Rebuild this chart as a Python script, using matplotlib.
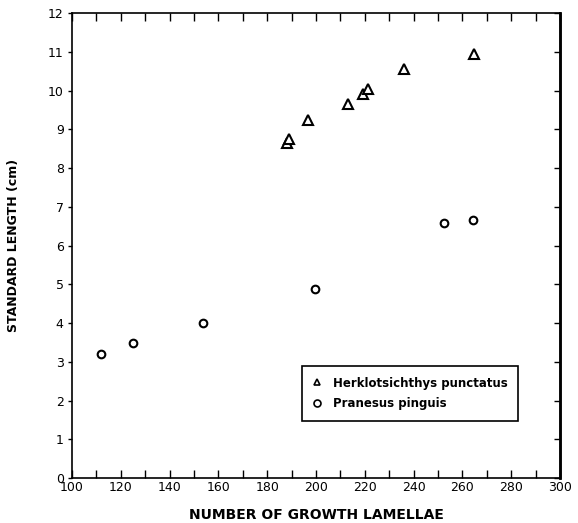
import matplotlib
matplotlib.use("Agg")
import matplotlib.pyplot as plt
import matplotlib.ticker as ticker

plt.rcParams.update({"font.family": "DejaVu Sans", "font.size": 9})

# Herklotsichthys punctatus (triangles)
herk_x = [188, 189, 196.6, 213.3, 219.3, 221.3, 236.2, 264.8]
herk_y = [8.65, 8.75, 9.24, 9.64, 9.90, 10.04, 10.56, 10.95]
# Pranesus pinguis (circles)
pran_x = [111.9, 124.8, 153.7, 199.7, 252.3, 264.5]
pran_y = [3.19, 3.49, 3.99, 4.89, 6.59, 6.66]

fig = plt.figure(figsize=(5.78, 5.23), dpi=100)
ax = fig.add_axes([0.1246, 0.086, 0.8443, 0.8891])

ax.plot(herk_x, herk_y, ls="none", marker="^", ms=6.5, mfc="white", mec="black",
        mew=1.5, label="Herklotsichthys punctatus")
ax.plot(pran_x, pran_y, ls="none", marker="o", ms=5.5, mfc="white", mec="black",
        mew=1.5, label="Pranesus pinguis")

ax.set_xlim(100, 300)
ax.set_ylim(0, 12)
ax.xaxis.set_major_locator(ticker.MultipleLocator(20))
ax.xaxis.set_minor_locator(ticker.MultipleLocator(10))
ax.yaxis.set_major_locator(ticker.MultipleLocator(1))
ax.tick_params(axis="x", which="both", direction="in", top=True, length=6, width=1, pad=2)
ax.tick_params(axis="y", which="major", direction="out", length=3, width=1, pad=3)
for s in ax.spines.values():
    s.set_linewidth(1.2)
ax.spines["right"].set_linewidth(1.8)

# inward ticks on the right-hand side
rax = ax.secondary_yaxis("right")
rax.yaxis.set_major_locator(ticker.MultipleLocator(1))
rax.tick_params(direction="in", length=4, width=1, labelright=False)
rax.spines["right"].set_linewidth(1.8)

ax.set_xlabel("NUMBER OF GROWTH LAMELLAE", fontsize=10, fontweight="bold", labelpad=10)
ax.set_ylabel("STANDARD LENGTH (cm)", fontsize=9, fontweight="bold", labelpad=20)

leg = ax.legend(loc="upper left", bbox_to_anchor=(0.471, 0.241), borderaxespad=0,
                fancybox=False, edgecolor="black", framealpha=1, handlelength=0.8,
                handletextpad=0.9, borderpad=0.9, labelspacing=0.65,
                prop={"weight": "bold", "size": 8.5})
leg.get_frame().set_linewidth(1.2)
for h in leg.legend_handles:
    h.set_markersize(5)
    h.set_markeredgewidth(1.2)

fig.savefig("out.png", dpi=100)
